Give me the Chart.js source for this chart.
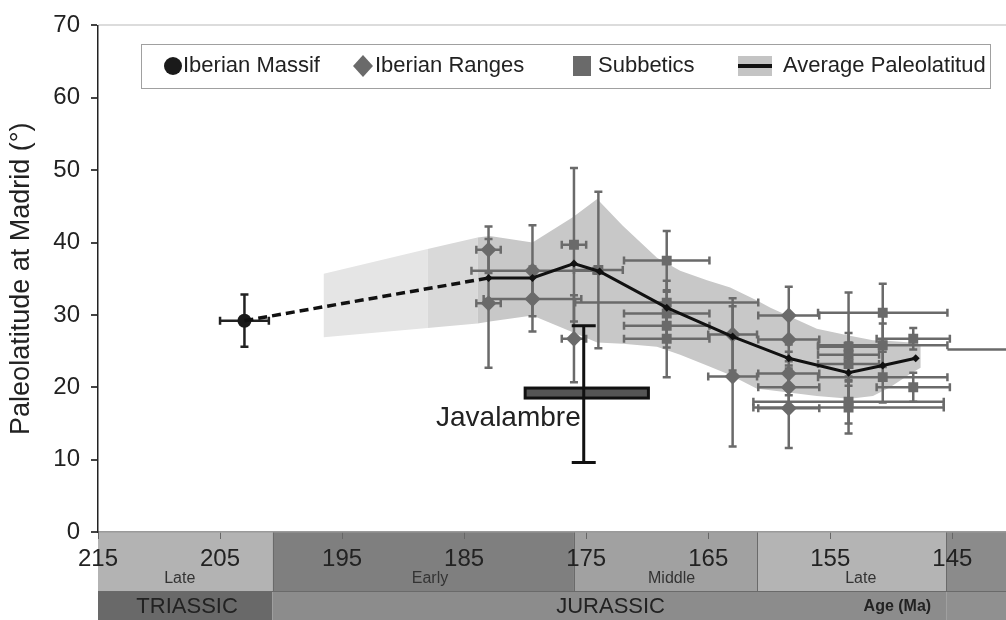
<!DOCTYPE html>
<html>
<head>
<meta charset="utf-8">
<script src="https://cdn.jsdelivr.net/npm/chart.js@4.4.1/dist/chart.umd.min.js"></script>
<style>
  html, body { margin: 0; padding: 0; background: #fff; }
  #wrap { width: 1006px; height: 620px; }
</style>
</head>
<body>
<div id="wrap"><canvas id="paleoChart" width="1006" height="620"></canvas></div>
<script>
/* ── AXES ── */
var X_TICKS = [215, 205, 195, 185, 175, 165, 155, 145];
var Y_TICKS = [0, 10, 20, 30, 40, 50, 60, 70];
var AGE_MIN = 140.6, AGE_MAX = 215;

/* ── IBERIAN MASSIF (age Ma, paleolatitude °, errors) ── */
var MASSIF_AGE  = [203];
var MASSIF_LAT  = [29.2];
var MASSIF_XERR = [2];
var MASSIF_YERR = [3.6];

/* ── IBERIAN RANGES ── */
var RANGES_AGE  = [183, 183, 179.4, 179.4, 176, 163, 163, 158.4, 158.4, 158.4, 158.4, 158.4];
var RANGES_LAT  = [39.0, 31.6, 36.1, 32.2, 26.7, 27.3, 21.5, 29.9, 26.6, 21.9, 20.0, 17.1];
var RANGES_XERR = [1, 1, 5, 4, 1, 2, 2, 2.5, 2.5, 2.5, 2.5, 2.5];
var RANGES_YERR = [3.2, 8.9, 6.3, 4.5, 6, 5, 9.7, 4, 3, 3, 3, 5.5];

/* ── SUBBETICS ── */
var SUBB_AGE  = [176, 174, 168.4, 168.4, 168.4, 168.4, 168.4, 153.5, 153.5, 153.5, 153.5, 153.5, 150.7, 150.7, 150.7, 148.2, 148.2];
var SUBB_LAT  = [39.7, 36.2, 37.5, 31.7, 30.2, 28.5, 26.7, 25.6, 24.5, 23.2, 18.0, 17.2, 30.3, 25.8, 21.4, 26.7, 20.0];
var SUBB_XERR = [1, 2, 3.5, 7.5, 3.5, 3.5, 3.5, 2.5, 2.5, 2.5, 7.8, 7.8, 5.3, 5.3, 5.3, 3, 3];
var SUBB_YERR = [10.6, 10.8, 4.1, 3, 3, 3, 5.3, 7.5, 3, 3, 3, 3.6, 4, 3, 3.5, 1.5, 2];

/* trailing bar running off the right edge */
var TRAIL_AGE = [145.4, 140.6];
var TRAIL_LAT = [25.2, 25.2];

/* ── AVERAGE PALEOLATITUDE ── */
var AVG_DASH_AGE = [203, 183];
var AVG_DASH_LAT = [29.2, 35.1];
var AVG_AGE = [183, 179.4, 176, 173.9, 168.4, 163, 158.4, 153.5, 150.7, 148];
var AVG_LAT = [35.1, 35.1, 37.1, 36.0, 31.0, 27.0, 24.0, 22.0, 23.0, 24.0];

/* ── ENVELOPE (upper / lower bound) ── */
var ENV_AGE = [183.9, 182.9, 179.4, 176.1, 174.1, 172.0, 169.2, 167.3, 165.1, 163.2, 161.0, 159.9, 156.1, 153.4, 151.5, 150.1, 148.4, 147.6];
var ENV_UP  = [40.7, 40.9, 40.0, 43.5, 46.0, 42.3, 37.9, 36.1, 34.8, 33.8, 32.0, 31.0, 28.1, 27.1, 26.5, 26.4, 26.2, 25.8];
var ENV_LO  = [28.8, 29.1, 29.9, 27.6, 26.2, 26.0, 25.6, 24.5, 23.0, 21.7, 19.8, 19.6, 18.8, 18.4, 18.8, 20.0, 21.9, 22.7];
var ENV_OLD_AGE = [196.5, 188.0];
var ENV_OLD_UP  = [35.7, 39.1];
var ENV_OLD_LO  = [26.9, 28.2];
var ENV_MID_AGE = [188.0, 183.9];
var ENV_MID_UP  = [39.1, 40.7];
var ENV_MID_LO  = [28.2, 28.8];

/* ── JAVALAMBRE ── */
var JAV_AGE = 175.2, JAV_LAT = 19.2;
var JAV_AGE_RANGE = [180, 169.9];
var JAV_LAT_RANGE = [9.6, 28.5];

/* ── TIME SCALE ── */
var STAGE_NAMES = ["Late", "Early", "Middle", "Late", ""];
var STAGE_FROM  = [215, 200.7, 176, 161, 145.5];
var STAGE_TO    = [200.7, 176, 161, 145.5, 140.6];
var STAGE_LABEL_AGE = [208.3, 187.8, 168, 152.5, 0];
var PERIOD_NAMES = ["TRIASSIC", "JURASSIC", ""];
var PERIOD_FROM  = [215, 200.7, 145.5];
var PERIOD_TO    = [200.7, 145.5, 140.6];
var PERIOD_LABEL_AGE = [207.7, 173, 0];

/* ── STYLE ── */
var FONT = "'Liberation Sans', Arial, sans-serif";
var INK = "#222";
var STAGE_COLORS  = ["#b3b3b3", "#7f7f7f", "#a1a1a1", "#b4b4b4", "#8b8b8b"];
var PERIOD_COLORS = ["#696969", "#8c8c8c", "#909090"];
var MARK = "#6a6a6a";

function pts(xs, ys) {
  return xs.map(function (x, i) { return { x: x, y: ys[i] }; });
}
/* closed polygon: upper edge forward, lower edge back */
function ring(ages, up, lo) {
  var a = pts(ages, up);
  var b = pts(ages, lo).reverse();
  return a.concat(b);
}

/* error bars drawn just under their own markers */
var errorBars = {
  id: "errorBars",
  beforeDatasetDraw: function (chart, args) {
    var ds = chart.data.datasets[args.index];
    if (!ds.xErr) return;
    var xs = chart.scales.x, ys = chart.scales.y, ctx = chart.ctx;
    var cap = 4;
    ctx.save();
    ctx.strokeStyle = ds.errColor;
    ctx.lineWidth = 2.5;
    ds.data.forEach(function (p, i) {
      var px = xs.getPixelForValue(p.x), py = ys.getPixelForValue(p.y);
      var xa = xs.getPixelForValue(p.x + ds.xErr[i]), xb = xs.getPixelForValue(p.x - ds.xErr[i]);
      var ya = ys.getPixelForValue(p.y + ds.yErr[i]), yb = ys.getPixelForValue(p.y - ds.yErr[i]);
      ctx.beginPath();
      ctx.moveTo(xa, py); ctx.lineTo(xb, py);
      ctx.moveTo(xa, py - cap); ctx.lineTo(xa, py + cap);
      ctx.moveTo(xb, py - cap); ctx.lineTo(xb, py + cap);
      ctx.moveTo(px, ya); ctx.lineTo(px, yb);
      ctx.moveTo(px - cap, ya); ctx.lineTo(px + cap, ya);
      ctx.moveTo(px - cap, yb); ctx.lineTo(px + cap, yb);
      ctx.stroke();
    });
    ctx.restore();
  }
};

/* geological time bands under the x axis */
var timeBands = {
  id: "timeBands",
  beforeDraw: function (chart) {
    var xs = chart.scales.x, ctx = chart.ctx;
    var top = xs.top, mid = xs.top + 59, bot = xs.bottom;
    ctx.save();
    STAGE_FROM.forEach(function (a, i) {
      var x0 = xs.getPixelForValue(a), x1 = xs.getPixelForValue(STAGE_TO[i]);
      ctx.fillStyle = STAGE_COLORS[i];
      ctx.fillRect(x0, top, x1 - x0, mid - top);
    });
    PERIOD_FROM.forEach(function (a, i) {
      var x0 = xs.getPixelForValue(a), x1 = xs.getPixelForValue(PERIOD_TO[i]);
      ctx.fillStyle = PERIOD_COLORS[i];
      ctx.fillRect(x0, mid, x1 - x0, bot - mid);
    });
    ctx.strokeStyle = "#6a6a6a";
    ctx.lineWidth = 1;
    ctx.beginPath();
    STAGE_FROM.forEach(function (a, i) {
      if (i === 0) return;
      var x = Math.round(xs.getPixelForValue(a)) + 0.5;
      ctx.moveTo(x, top); ctx.lineTo(x, mid);
    });
    ctx.moveTo(xs.left, mid + 0.5); ctx.lineTo(xs.right, mid + 0.5);
    ctx.stroke();

    ctx.fillStyle = "#333";
    ctx.textAlign = "center";
    ctx.textBaseline = "middle";
    ctx.font = "16px " + FONT;
    STAGE_NAMES.forEach(function (n, i) {
      if (n) ctx.fillText(n, xs.getPixelForValue(STAGE_LABEL_AGE[i]), top + 47);
    });
    ctx.fillStyle = INK;
    ctx.font = "22px " + FONT;
    PERIOD_NAMES.forEach(function (n, i) {
      if (n) ctx.fillText(n, xs.getPixelForValue(PERIOD_LABEL_AGE[i]), mid + 16);
    });
    ctx.font = "bold 16px " + FONT;
    ctx.fillText("Age (Ma)", xs.getPixelForValue(149.5), mid + 16);
    ctx.restore();
  }
};

/* Javalambre cross + legend box on top */
var overlay = {
  id: "overlay",
  afterDatasetsDraw: function (chart) {
    var xs = chart.scales.x, ys = chart.scales.y, ctx = chart.ctx;
    ctx.save();
    var px = xs.getPixelForValue(JAV_AGE), py = ys.getPixelForValue(JAV_LAT);
    var xa = xs.getPixelForValue(JAV_AGE_RANGE[0]), xb = xs.getPixelForValue(JAV_AGE_RANGE[1]);
    var ya = ys.getPixelForValue(JAV_LAT_RANGE[1]), yb = ys.getPixelForValue(JAV_LAT_RANGE[0]);
    ctx.fillStyle = "#555";
    ctx.strokeStyle = "#111";
    ctx.lineWidth = 3;
    ctx.fillRect(xa, py - 5, xb - xa, 10);
    ctx.strokeRect(xa, py - 5, xb - xa, 10);
    ctx.beginPath();
    ctx.moveTo(px, ya); ctx.lineTo(px, yb);
    ctx.moveTo(px - 12, ya); ctx.lineTo(px + 12, ya);
    ctx.moveTo(px - 12, yb); ctx.lineTo(px + 12, yb);
    ctx.stroke();
    ctx.fillStyle = INK;
    ctx.font = "28px " + FONT;
    ctx.textAlign = "right";
    ctx.textBaseline = "middle";
    ctx.fillText("Javalambre", px - 3, py + 25);

    /* legend */
    ctx.fillStyle = "#fff";
    ctx.fillRect(141, 44, 849, 44);
    ctx.strokeStyle = "#a0a0a0";
    ctx.lineWidth = 1;
    ctx.strokeRect(141.5, 44.5, 849, 44);
    var cy = 66;
    ctx.fillStyle = "#1a1a1a";
    ctx.beginPath(); ctx.arc(173, cy, 9, 0, Math.PI * 2); ctx.fill();
    ctx.fillStyle = MARK;
    ctx.beginPath();
    ctx.moveTo(363, cy - 11); ctx.lineTo(373, cy); ctx.lineTo(363, cy + 11); ctx.lineTo(353, cy);
    ctx.closePath(); ctx.fill();
    ctx.fillRect(573, cy - 10, 18, 20);
    ctx.fillStyle = "#c4c4c4";
    ctx.fillRect(738, cy - 10, 34, 20);
    ctx.fillStyle = "#111";
    ctx.fillRect(738, cy - 2, 34, 4);
    ctx.fillStyle = INK;
    ctx.font = "22px " + FONT;
    ctx.textAlign = "left";
    ctx.fillText("Iberian Massif", 183, cy);
    ctx.fillText("Iberian Ranges", 375, cy);
    ctx.fillText("Subbetics", 598, cy);
    ctx.fillText("Average Paleolatitud", 783, cy);
    ctx.restore();
  }
};

new Chart(document.getElementById("paleoChart"), {
  type: "line",
  data: {
    datasets: [
      {
        label: "Average Paleolatitude",
        data: pts(AVG_AGE, AVG_LAT),
        borderColor: "#111", borderWidth: 3, tension: 0,
        pointStyle: "rectRot", pointRadius: 4, pointBackgroundColor: "#111", pointBorderWidth: 0,
        fill: false, order: 1
      },
      {
        label: "Average (extrapolated)",
        data: pts(AVG_DASH_AGE, AVG_DASH_LAT),
        borderColor: "#111", borderWidth: 3.5, borderDash: [9, 5], tension: 0,
        pointRadius: 0, fill: false, order: 1
      },
      {
        label: "Iberian Massif",
        data: pts(MASSIF_AGE, MASSIF_LAT),
        xErr: MASSIF_XERR, yErr: MASSIF_YERR, errColor: "#222",
        showLine: false, pointStyle: "circle", pointRadius: 7,
        pointBackgroundColor: "#1a1a1a", pointBorderWidth: 0, order: 2
      },
      {
        label: "Iberian Ranges",
        data: pts(RANGES_AGE, RANGES_LAT),
        xErr: RANGES_XERR, yErr: RANGES_YERR, errColor: MARK,
        showLine: false, pointStyle: "rectRot", pointRadius: 8,
        pointBackgroundColor: MARK, pointBorderWidth: 0, order: 3
      },
      {
        label: "Subbetics",
        data: pts(SUBB_AGE, SUBB_LAT),
        xErr: SUBB_XERR, yErr: SUBB_YERR, errColor: MARK,
        showLine: false, pointStyle: "rect", pointRadius: 7,
        pointBackgroundColor: MARK, pointBorderWidth: 0, order: 4
      },
      {
        label: "trail",
        data: pts(TRAIL_AGE, TRAIL_LAT),
        borderColor: MARK, borderWidth: 2.5, pointRadius: 0, fill: false, order: 5
      },
      {
        label: "envelope",
        data: ring(ENV_AGE, ENV_UP, ENV_LO),
        borderWidth: 0, borderColor: "rgba(0,0,0,0)", pointRadius: 0,
        backgroundColor: "#c8c8c8", fill: "shape", order: 8
      },
      {
        label: "envelope mid",
        data: ring(ENV_MID_AGE, ENV_MID_UP, ENV_MID_LO),
        borderWidth: 0, borderColor: "rgba(0,0,0,0)", pointRadius: 0,
        backgroundColor: "#d9d9d9", fill: "shape", order: 9
      },
      {
        label: "envelope old",
        data: ring(ENV_OLD_AGE, ENV_OLD_UP, ENV_OLD_LO),
        borderWidth: 0, borderColor: "rgba(0,0,0,0)", pointRadius: 0,
        backgroundColor: "#e5e5e5", fill: "shape", order: 10
      }
    ]
  },
  options: {
    responsive: false,
    devicePixelRatio: 1,
    animation: false,
    layout: { autoPadding: false, padding: { top: 24, right: 0, bottom: 0, left: 0 } },
    plugins: {
      legend: { display: false },
      tooltip: { enabled: false }
    },
    scales: {
      x: {
        type: "linear", reverse: true, min: AGE_MIN, max: AGE_MAX,
        afterBuildTicks: function (s) { s.ticks = X_TICKS.map(function (v) { return { value: v }; }); },
        afterFit: function (s) { s.height = 88; },
        ticks: { color: INK, font: { family: FONT, size: 24 }, padding: 6, autoSkip: false, maxRotation: 0 },
        grid: { drawOnChartArea: false, drawTicks: true, tickLength: 7, tickColor: "#666" },
        border: { color: "#9a9a9a", width: 1.5 }
      },
      y: {
        min: 0, max: 70,
        afterBuildTicks: function (s) { s.ticks = Y_TICKS.map(function (v) { return { value: v }; }); },
        afterFit: function (s) { s.width = 98; },
        ticks: { color: INK, font: { family: FONT, size: 24 }, padding: 11 },
        grid: {
          drawTicks: true, tickLength: 7, tickColor: "#444",
          color: function (c) { return c.tick && c.tick.value === 70 ? "#dcdcdc" : "rgba(0,0,0,0)"; },
          lineWidth: 2
        },
        border: { color: "#222", width: 1.5 },
        title: { display: true, text: "Paleolatitude at Madrid (°)", color: INK, font: { family: FONT, size: 27 }, padding: { top: 5, bottom: 0 } }
      }
    }
  },
  plugins: [timeBands, errorBars, overlay]
});
</script>
</body>
</html>
